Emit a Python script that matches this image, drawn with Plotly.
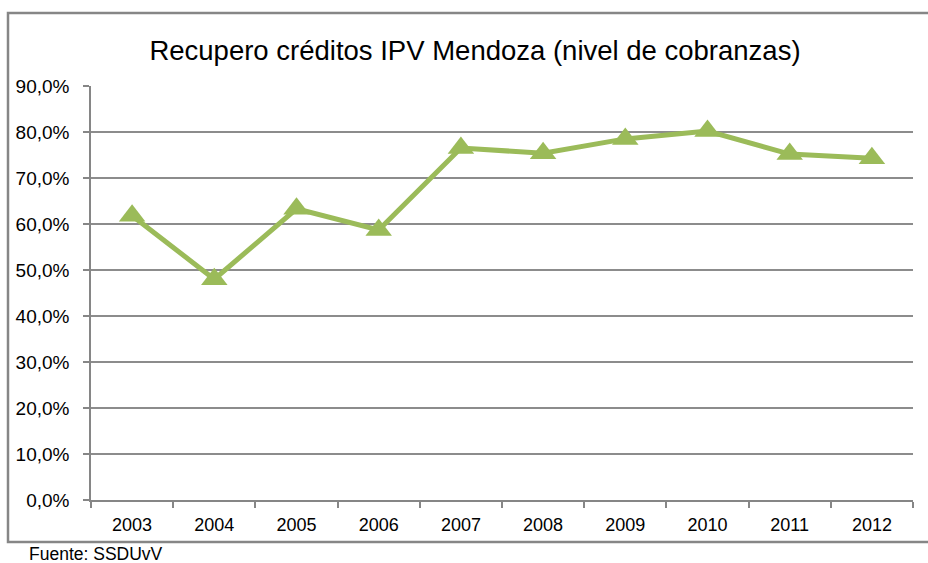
import plotly.graph_objects as go

years = ["2003", "2004", "2005", "2006", "2007", "2008", "2009", "2010", "2011", "2012"]
cobranza = [0.618, 0.480, 0.633, 0.587, 0.765, 0.754, 0.785, 0.802, 0.752, 0.743]
y_ticks = [0, 0.1, 0.2, 0.3, 0.4, 0.5, 0.6, 0.7, 0.8, 0.9]

W, H = 928, 563
L, R, T, B = 91, 913, 86, 500

def px(x):
    return (x - L) / (R - L)

def py(y):
    return (B - y) / (B - T)

fig = go.Figure()
fig.add_trace(go.Scatter(
    x=years, y=cobranza, mode="lines+markers",
    line=dict(color="#9BBB59", width=5),
    marker=dict(symbol="triangle-up", size=23, color="#9BBB59"),
    showlegend=False, hoverinfo="x+y",
))

font = "Liberation Sans, Arial, sans-serif"
fig.update_layout(
    width=W, height=H,
    margin=dict(l=L, r=W - R, t=T, b=H - B),
    paper_bgcolor="white", plot_bgcolor="white",
    separators=",.",
    font=dict(family=font, size=18, color="black"),
    title=dict(text="Recupero créditos IPV Mendoza (nivel de cobranzas)",
               x=475 / W, xanchor="center", y=1 - 50 / H, yanchor="middle",
               xref="container", yref="container",
               font=dict(family=font, size=27.5, color="black")),
    xaxis=dict(type="category", range=[-0.5, 9.5], showgrid=False, showline=True,
               linecolor="#868686", linewidth=1.5,
               ticks="outside", tickson="boundaries", ticklen=6, tickcolor="#868686", tickwidth=1.5,
               ticklabelstandoff=8, tickfont=dict(family=font, size=18)),
    yaxis=dict(range=[0, 0.9], tickvals=y_ticks, tickformat=".1%", showgrid=True,
               gridcolor="#8c8c8c", gridwidth=1.5, showline=True, linecolor="#868686", linewidth=1.5,
               ticks="outside", ticklen=6, tickcolor="#868686", tickwidth=1.5,
               tickfont=dict(family=font, size=19),
               ticklabelstandoff=10, zeroline=False),
)

fig.add_shape(type="rect", xref="paper", yref="paper",
              x0=px(8), x1=px(935), y0=py(542), y1=py(13),
              line=dict(color="#868686", width=2.5), fillcolor="rgba(0,0,0,0)", layer="below")

fig.add_annotation(text="Fuente: SSDUvV", xref="paper", yref="paper",
                   x=px(27), y=py(554), xanchor="left", yanchor="middle", showarrow=False,
                   font=dict(family=font, size=17.5, color="black"))

fig.write_html("out.html", config={"displayModeBar": False},
               post_script="document.body.style.margin='0';document.body.style.overflow='hidden';")
